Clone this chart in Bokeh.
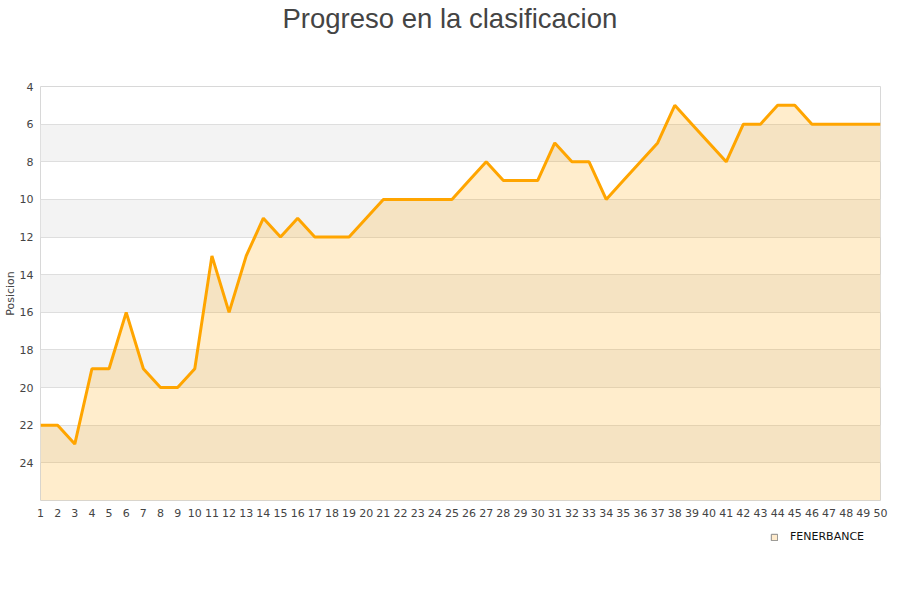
from bokeh.plotting import figure
from bokeh.models import Range1d, FixedTicker, Legend, LegendItem, Title
from bokeh.layouts import column
from bokeh.embed import file_html
from bokeh.resources import INLINE

jornadas = list(range(1, 51))
posicion = [22, 22, 23, 19, 19, 16, 19, 20, 20, 19,
            13, 16, 13, 11, 12, 11, 12, 12, 12, 11,
            10, 10, 10, 10, 10, 9, 8, 9, 9, 9,
            7, 8, 8, 10, 9, 8, 7, 5, 6, 7,
            8, 6, 6, 5, 5, 6, 6, 6, 6, 6]
y_ticks = list(range(4, 25, 2))
team = "FENERBANCE"
title_text = "Progreso en la clasificacion"
y_label = "Posicion"

p = figure(title=None, frame_width=840, frame_height=414,
           output_backend="svg", toolbar_location=None,
           x_range=Range1d(1, 50), y_range=Range1d(26, 4),
           min_border_left=32, min_border_right=12, min_border_top=86, min_border_bottom=25)

# spacer (closest to the frame), then the real title further out
p.add_layout(Title(text=" ", text_font_size="11px", standoff=39, text_color="#ffffff"), "above")
p.add_layout(Title(text=title_text, align="left", offset=242, text_font="Liberation Sans",
                   text_font_size="27.5px", text_font_style="normal", text_color="#444444",
                   standoff=0), "above")

p.outline_line_color = "#d8d8d8"
p.outline_line_width = 1

p.xgrid.visible = False
p.ygrid.ticker = FixedTicker(ticks=y_ticks)
p.ygrid.grid_line_color = "#dedede"
p.ygrid.band_fill_color = "#f3f3f3"
p.ygrid.band_fill_alpha = 1.0

p.xaxis.ticker = FixedTicker(ticks=jornadas)
p.yaxis.ticker = FixedTicker(ticks=y_ticks)
for ax in (p.xaxis[0], p.yaxis[0]):
    ax.axis_line_color = None
    ax.major_tick_line_color = None
    ax.minor_tick_line_color = None
    ax.major_tick_in = 0
    ax.major_tick_out = 0
    ax.minor_tick_in = 0
    ax.minor_tick_out = 0
    ax.major_label_text_font = "DejaVu Sans"
    ax.major_label_text_font_size = "11px"
    ax.major_label_text_color = "#444444"
p.xaxis.major_label_standoff = 8
p.yaxis.major_label_standoff = 7
p.yaxis.axis_label = y_label
p.yaxis.axis_label_text_font = "DejaVu Sans"
p.yaxis.axis_label_text_font_size = "11px"
p.yaxis.axis_label_text_font_style = "normal"
p.yaxis.axis_label_text_color = "#444444"
p.yaxis.axis_label_standoff = 0

p.varea(x=jornadas, y1=posicion, y2=[26] * len(jornadas), fill_color="#ffa500", fill_alpha=0.2)
p.line(x=jornadas, y=posicion, line_color="#ffa500", line_width=3)

# legend strip below the chart (its proxy renderer holds the same series, outside its view)
lf = figure(width=892, height=40, output_backend="svg", toolbar_location=None,
            x_range=Range1d(-1, 0), y_range=Range1d(-1, 0),
            min_border=0, min_border_left=0, min_border_right=0, min_border_top=0, min_border_bottom=0)
lf.axis.visible = False
lf.grid.visible = False
lf.outline_line_color = None
proxy = lf.quad(left=jornadas, right=jornadas, top=posicion, bottom=posicion,
                fill_color="#ffebcc", line_color="#888888", line_width=1)
legend = Legend(items=[LegendItem(label=team, renderers=[proxy])], location=(726, 18),
                orientation="horizontal", border_line_alpha=0, background_fill_alpha=0,
                label_text_font="DejaVu Sans", label_text_font_size="11px", label_text_color="#111111",
                glyph_width=8, glyph_height=8, padding=4, margin=0, label_standoff=12)
lf.add_layout(legend, "center")

layout = column(p, lf, spacing=0)
open("out.html", "w").write(file_html(layout, INLINE))
